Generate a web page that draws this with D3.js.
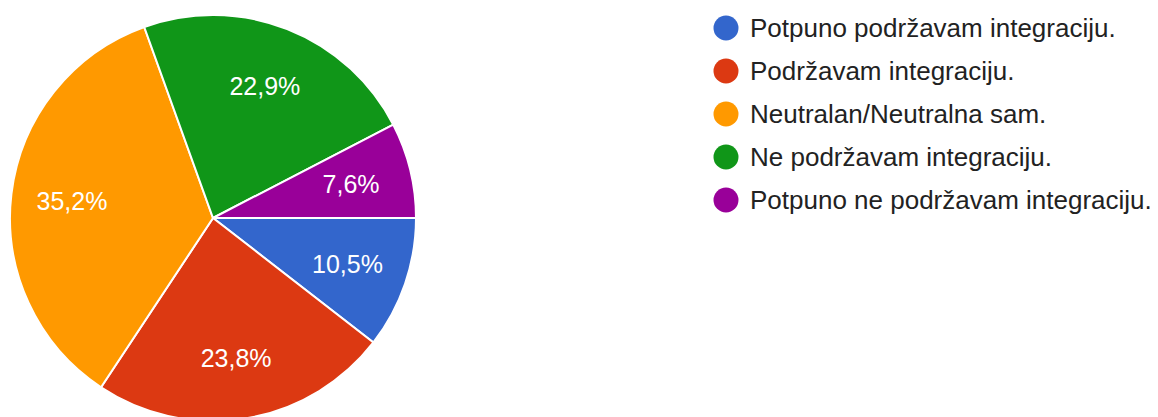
<!DOCTYPE html>
<html>
<head>
<meta charset="utf-8">
<script src="https://cdn.jsdelivr.net/npm/d3@7"></script>
<style>
  html, body { margin: 0; padding: 0; background: #fff; }
  svg { display: block; font-family: Arial, "Liberation Sans", sans-serif; }
</style>
</head>
<body>
<svg width="1158" height="417"></svg>
<script>
const categories = [
  "Potpuno podržavam integraciju.",
  "Podržavam integraciju.",
  "Neutralan/Neutralna sam.",
  "Ne podržavam integraciju.",
  "Potpuno ne podržavam integraciju."
];
const values = [10.5, 23.8, 35.2, 22.9, 7.6];
const colors = ["#3366cc", "#dc3912", "#ff9900", "#109618", "#990099"];

const svg = d3.select("svg");
const cx = 213, cy = 218, r = 203;

const color = d3.scaleOrdinal().domain(categories).range(colors);

// slices start at 3 o'clock and run clockwise
const pie = d3.pie()
  .sort(null)
  .value(d => d.v)
  .startAngle(Math.PI / 2)
  .endAngle(Math.PI / 2 + 2 * Math.PI);

const data = categories.map((c, i) => ({ c: c, v: values[i] }));
const arcs = pie(data);

const arc = d3.arc().innerRadius(0).outerRadius(r);
const labelArc = d3.arc().innerRadius(r * 0.7).outerRadius(r * 0.7);

const g = svg.append("g").attr("transform", `translate(${cx},${cy})`);

g.selectAll("path")
  .data(arcs)
  .join("path")
  .attr("d", arc)
  .attr("fill", d => color(d.data.c))
  .attr("stroke", "#fff")
  .attr("stroke-width", 2);

g.selectAll("text")
  .data(arcs)
  .join("text")
  .attr("transform", d => `translate(${labelArc.centroid(d)})`)
  .attr("text-anchor", "middle")
  .attr("dy", "0.36em")
  .attr("fill", "#fff")
  .attr("font-size", 25)
  .text(d => d3.format(".1f")(d.data.v).replace(".", ",") + "%");

// legend
const legend = svg.append("g").attr("transform", "translate(726,28)");
const row = legend.selectAll("g")
  .data(categories)
  .join("g")
  .attr("transform", (d, i) => `translate(0,${i * 43})`);

row.append("circle")
  .attr("r", 12.5)
  .attr("fill", d => color(d));

row.append("text")
  .attr("x", 24)
  .attr("dy", "0.36em")
  .attr("fill", "#222")
  .attr("font-size", 26)
  .text(d => d);
</script>
</body>
</html>
